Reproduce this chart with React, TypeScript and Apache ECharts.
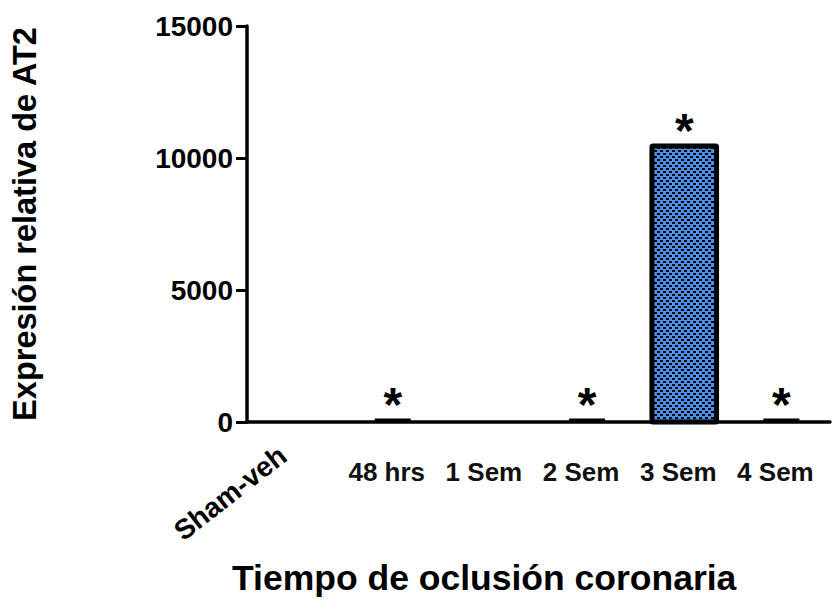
import React, { useEffect, useRef } from "react";
import * as echarts from "echarts";

const categories = ["Sham-veh", "48 hrs", "1 Sem", "2 Sem", "3 Sem", "4 Sem"];
const means = [0, 25, 0, 30, 10450, 35];
const errors = [0, 30, 0, 25, 0, 25];
const marks = ["", "*", "", "*", "*", "*"];
const yTicks = [0, 5000, 10000, 15000];
const yAxisTitle = "Expresión relativa de AT2";
const xAxisTitle = "Tiempo de oclusión coronaria";

function makePattern(): HTMLCanvasElement {
  const c = document.createElement("canvas");
  c.width = 6;
  c.height = 6;
  const ctx = c.getContext("2d")!;
  ctx.fillStyle = "#4a90ea";
  ctx.fillRect(0, 0, 6, 6);
  ctx.fillStyle = "#000000";
  ctx.fillRect(0, 0, 3, 2);
  ctx.fillRect(3, 3, 3, 2);
  return c;
}

export default function App() {
  const ref = useRef<HTMLDivElement>(null);
  useEffect(() => {
    if (!ref.current) return;
    const chart = echarts.init(ref.current, undefined, { renderer: "svg" });
    const pattern = makePattern();
    const fill = { image: pattern, repeat: "repeat", imageWidth: 6, imageHeight: 6 };
    const itemData = categories.map((c, i) => [i, means[i], errors[i]]);
    chart.setOption({
      animation: false,
      backgroundColor: "#ffffff",
      grid: { left: 232, right: 7, top: 26, bottom: 187, containLabel: false },
      xAxis: [
        {
          type: "category",
          data: categories,
          boundaryGap: true,
          axisLine: { lineStyle: { color: "#000", width: 3.5 } },
          axisTick: { alignWithLabel: true, length: 10, lineStyle: { color: "#000", width: 3 } },
          axisLabel: {
            interval: 0,
            margin: 37,
            padding: [0, 12, 0, 0],
            color: "#111",
            fontFamily: "'Liberation Sans Narrow', 'Liberation Sans', Arial, sans-serif",
            fontWeight: "bold",
            fontSize: 26,
            formatter: (v: string, i: number) => (i === 0 ? "" : v),
          },
        },
        {
          type: "category",
          data: categories,
          position: "bottom",
          boundaryGap: true,
          axisLine: { show: false },
          axisTick: { show: false },
          axisLabel: {
            rotate: 38,
            margin: 20,
            padding: [0, 16, 0, 0],
            color: "#000",
            fontFamily: "'Liberation Sans', Arial, sans-serif",
            fontWeight: "bold",
            fontSize: 28,
            interval: 0,
            formatter: (v: string, i: number) => (i === 0 ? v : ""),
          },
        },
      ],
      yAxis: {
        type: "value",
        min: yTicks[0],
        max: yTicks[yTicks.length - 1],
        interval: yTicks[1] - yTicks[0],
        name: yAxisTitle,
        nameLocation: "middle",
        nameGap: 206,
        nameTextStyle: {
          color: "#000",
          fontFamily: "'Liberation Sans', Arial, sans-serif",
          fontWeight: "bold",
          fontSize: 32.5,
        },
        splitLine: { show: false },
        axisLine: { show: true, lineStyle: { color: "#000", width: 3.5 } },
        axisTick: { show: true, length: 11, lineStyle: { color: "#000", width: 3 } },
        axisLabel: {
          margin: 14,
          color: "#000",
          fontFamily: "'Liberation Sans', Arial, sans-serif",
          fontWeight: "bold",
          fontSize: 28,
          formatter: (v: number) => String(v),
        },
      },
      graphic: [
        {
          type: "text",
          left: 232,
          top: 560,
          style: {
            text: xAxisTitle,
            fill: "#000",
            font: "bold 35.5px 'Liberation Sans', Arial, sans-serif",
          },
        },
      ],
      series: [
        {
          type: "custom",
          data: itemData,
          z: 5,
          renderItem: (params: any, api: any) => {
            const i = api.value(0);
            const m = api.value(1);
            const e = api.value(2);
            const base = api.coord([i, 0]);
            const topBar = api.coord([i, m]);
            const top = api.coord([i, m + e]);
            const bw = api.size([1, 0])[0] * 0.665;
            const children: any[] = [];
            if (base[1] - topBar[1] > 3) {
              children.push({
                type: "rect",
                shape: { x: base[0] - bw / 2, y: topBar[1], width: bw, height: base[1] - topBar[1], r: 1 },
                style: { fill: fill, stroke: "#000", lineWidth: 5 },
              });
            }
            if (e > 0) {
              children.push({
                type: "line",
                shape: { x1: top[0] - 18, y1: top[1], x2: top[0] + 18, y2: top[1] },
                style: { stroke: "#000", lineWidth: 4 },
              });
            }
            const mark = marks[i];
            if (mark) {
              children.push({
                type: "text",
                x: top[0],
                y: top[1] + 8,
                style: {
                  text: mark,
                  align: "center",
                  verticalAlign: "bottom",
                  fill: "#000",
                  font: "bold 48px 'Liberation Sans', Arial, sans-serif",
                },
              });
            }
            return { type: "group", children };
          },
        },
      ],
    });
    return () => chart.dispose();
  }, []);
  return (
    <div
      ref={ref}
      style={{ position: "absolute", left: 0, top: 0, width: 837, height: 609 }}
    />
  );
}
